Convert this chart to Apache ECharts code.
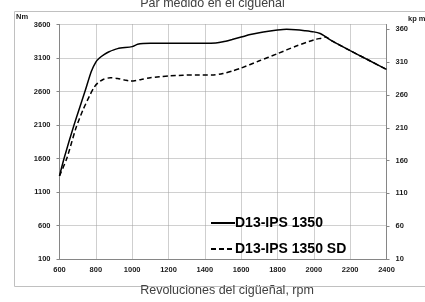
<!DOCTYPE html>
<html>
<head>
<meta charset="utf-8">
<script src="https://cdn.jsdelivr.net/npm/echarts@6/dist/echarts.min.js"></script>
<style>
  html, body { margin: 0; padding: 0; background: #fff; }
  #chart { width: 425px; height: 302px; }
</style>
</head>
<body>
<div id="chart"></div>
<script>
// par motor, curva normal
const solidRpm = [600, 625, 680, 740, 775, 800, 820, 845, 870, 920, 1000, 1030, 1060, 1100, 1200, 1300, 1400, 1460, 1500, 1550, 1600, 1650, 1700, 1750, 1800, 1850, 1900, 1950, 2000, 2035, 2060, 2100, 2200, 2300, 2400];
const solidNm = [1340, 1600, 2100, 2600, 2900, 3040, 3100, 3150, 3190, 3240, 3270, 3305, 3318, 3320, 3320, 3320, 3320, 3325, 3342, 3376, 3412, 3450, 3478, 3500, 3518, 3528, 3522, 3508, 3490, 3465, 3425, 3355, 3210, 3070, 2930];
// curva SD
const sdRpm = [600, 640, 690, 730, 770, 790, 810, 840, 880, 920, 960, 990, 1050, 1100, 1150, 1200, 1280, 1350, 1440, 1500, 1550, 1600, 1700, 1800, 1900, 2000, 2040, 2065, 2100, 2200, 2300, 2400];
const sdNm = [1340, 1600, 2050, 2330, 2560, 2660, 2725, 2780, 2805, 2795, 2770, 2755, 2780, 2805, 2820, 2832, 2843, 2848, 2845, 2868, 2905, 2950, 3058, 3165, 3275, 3370, 3396, 3412, 3355, 3210, 3070, 2930];

const xTicks = [600, 800, 1000, 1200, 1400, 1600, 1800, 2000, 2200, 2400];
const nmTicks = [100, 600, 1100, 1600, 2100, 2600, 3100, 3600];
const kpmTicks = [10, 60, 110, 160, 210, 260, 310, 360];

const seriesNames = ['D13-IPS 1350', 'D13-IPS 1350 SD'];

const chart = echarts.init(document.getElementById('chart'));

const labelFont = {
  fontFamily: 'Liberation Sans',
  fontWeight: 'bold',
  fontSize: 7.5,
  color: '#1a1a1a',
  formatter: v => String(v)
};

const option = {
  animation: false,
  title: {
    text: 'Par medido en el cigüeñal',
    left: 'center',
    top: -8,
    textStyle: {
      fontFamily: 'Liberation Sans',
      fontWeight: 'normal',
      fontSize: 12.5,
      color: '#404040'
    }
  },
  graphic: [
    {
      type: 'rect',
      shape: { x: 14.5, y: 11.5, width: 420, height: 275 },
      style: { fill: 'none', stroke: '#c0c0c0', lineWidth: 1 },
      z: -1
    },
    {
      type: 'text',
      left: 16, top: 13,
      style: { text: 'Nm', font: 'bold 7.5px "Liberation Sans"', fill: '#1a1a1a' }
    },
    {
      type: 'text',
      left: 408, top: 15,
      style: { text: 'kp m', font: 'bold 7.5px "Liberation Sans"', fill: '#1a1a1a' }
    }
  ],
  legend: {
    orient: 'vertical',
    left: 205,
    top: 211,
    itemWidth: 24,
    itemHeight: 14,
    itemGap: 12,
    data: seriesNames,
    itemStyle: { opacity: 0 },
    textStyle: {
      fontFamily: 'Liberation Sans',
      fontWeight: 'bold',
      fontSize: 14,
      color: '#000',
      padding: [0, 0, 0, -5]
    }
  },
  grid: {
    left: 59.5,
    right: 38.5,
    top: 24.5,
    bottom: 32
  },
  xAxis: {
    type: 'value',
    min: 600,
    max: 2400,
    interval: 200,
    name: 'Revoluciones del cigüeñal, rpm',
    nameLocation: 'middle',
    nameGap: 25,
    nameTextStyle: {
      fontFamily: 'Liberation Sans',
      fontSize: 12.5,
      color: '#404040',
      padding: [0, 0, 0, 8]
    },
    axisLine: { lineStyle: { color: '#868686', width: 1 } },
    axisTick: { show: false },
    axisLabel: Object.assign({ margin: 7, customValues: xTicks }, labelFont),
    splitLine: { show: true, lineStyle: { color: '#a0a0a0', type: [1, 1], width: 1 } }
  },
  yAxis: [
    {
      type: 'value',
      min: 100,
      max: 3600,
      axisLine: { show: true, lineStyle: { color: '#868686', width: 1 } },
      axisTick: { show: true, length: 3, customValues: nmTicks, lineStyle: { color: '#868686' } },
      axisLabel: Object.assign({ margin: 9, customValues: nmTicks }, labelFont),
      splitLine: { show: true, lineStyle: { color: '#a0a0a0', type: [1, 1], width: 1 } }
    },
    {
      type: 'value',
      min: 10,
      max: 367.5,
      position: 'right',
      axisLine: { show: true, lineStyle: { color: '#868686', width: 1 } },
      axisTick: { show: true, length: 3, customValues: kpmTicks, lineStyle: { color: '#868686' } },
      axisLabel: Object.assign({ margin: 9, customValues: kpmTicks }, labelFont),
      splitLine: { show: false }
    }
  ],
  series: [
    {
      name: seriesNames[0],
      type: 'line',
      data: solidRpm.map((r, i) => [r, solidNm[i]]),
      symbol: 'none',
      smooth: 0.25,
      lineStyle: { color: '#000', width: 1.5, type: 'solid' },
      itemStyle: { color: '#000' },
      z: 3
    },
    {
      name: seriesNames[1],
      type: 'line',
      data: sdRpm.map((r, i) => [r, sdNm[i]]),
      symbol: 'none',
      smooth: 0.25,
      lineStyle: { color: '#000', width: 1.5, type: [5, 3] },
      itemStyle: { color: '#000' },
      z: 2
    }
  ]
};

chart.setOption(option);
</script>
</body>
</html>
